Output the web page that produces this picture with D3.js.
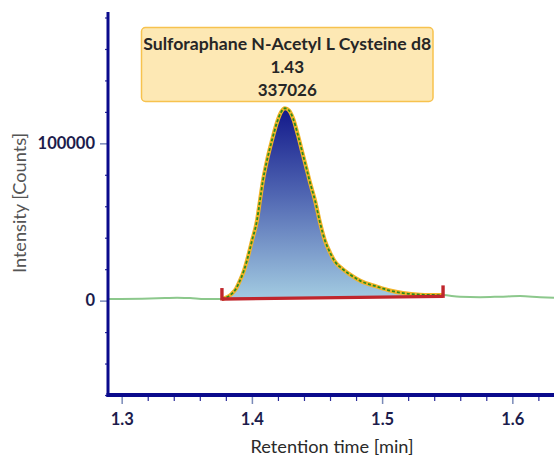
<!DOCTYPE html>
<html>
<head>
<meta charset="utf-8">
<script src="https://cdn.jsdelivr.net/npm/d3@7"></script>
<style>
  html, body { margin: 0; padding: 0; background: #fff; }
  svg { display: block; }
</style>
</head>
<body>
<svg id="chart" width="554" height="459"></svg>
<script>
// ---- data ----
const retentionTimes = [1.2895, 1.3217, 1.3333, 1.3425, 1.3525, 1.3640, 1.3755,
  1.3770, 1.3816, 1.3847, 1.3878, 1.3908, 1.3939, 1.3962, 1.4001, 1.4039, 1.4062,
  1.4085, 1.4116, 1.4154, 1.4193, 1.4223, 1.4254, 1.4285, 1.4316, 1.4354, 1.4393,
  1.4423, 1.4446, 1.4485, 1.4523, 1.4561, 1.4600, 1.4638, 1.4692, 1.4753, 1.4830,
  1.4961, 1.5061, 1.5160, 1.5291, 1.5468,
  1.5598, 1.5752, 1.5905, 1.6059, 1.6213, 1.6320];
const intensities = [1000, 1300, 1600, 1900, 1600, 1000, 1000,
  1000, 2500, 4500, 7600, 12700, 19100, 25500, 38200, 51000, 63700,
  76400, 89200, 101900, 113400, 119700, 122300, 121000, 115900, 105100, 92400,
  82800, 75200, 63700, 49700, 38200, 30600, 24800, 20400, 16600, 12700,
  8900, 6400, 4800, 3800, 3500,
  2500, 2200, 2500, 2900, 2200, 1900];
const peakStart = 1.377, peakEnd = 1.5468;
const baselineValues = [1000, 2700];
const peakLabel = ["Sulforaphane N-Acetyl L Cysteine d8", "1.43", "337026"];
const xTickValues = [1.3, 1.4, 1.5, 1.6];
const yTickValues = [0, 100000];
const xTitle = "Retention time [min]";
const yTitle = "Intensity [Counts]";

// ---- layout ----
const svg = d3.select("#chart");
const plotL = 108, plotR = 554, plotT = 12, plotB = 395;
const x = d3.scaleLinear().domain([1.2895, 1.632]).range([plotL, plotR]);
const y = d3.scaleLinear().domain([-60000, 183500]).range([plotB, plotT]);
const axisColor = "#0a0a8c";
const fontFam = "Lato, 'Open Sans', sans-serif";

const pts = retentionTimes.map((t, i) => ({t, v: intensities[i]}));
const baseAt = t => baselineValues[0] + (baselineValues[1] - baselineValues[0]) * (t - peakStart) / (peakEnd - peakStart);
const peakPts = pts.filter(p => p.t >= peakStart - 1e-9 && p.t <= peakEnd + 1e-9);

// gradient
const defs = svg.append("defs");
const grad = defs.append("linearGradient").attr("id", "pg")
  .attr("gradientUnits", "userSpaceOnUse")
  .attr("x1", 0).attr("x2", 0)
  .attr("y1", y(d3.max(peakPts, p => p.v))).attr("y2", y(0));
grad.append("stop").attr("offset", 0).attr("stop-color", "#12188a");
grad.append("stop").attr("offset", 0.45).attr("stop-color", "#5066b2");
grad.append("stop").attr("offset", 1).attr("stop-color", "#a4cde2");

// full trace (green)
const line = d3.line().x(p => x(p.t)).y(p => y(p.v)).curve(d3.curveMonotoneX);
svg.append("path").datum(pts).attr("d", line)
  .attr("fill", "none").attr("stroke", "#8cc88c").attr("stroke-width", 2);

// peak area
const area = d3.area().x(p => x(p.t)).y0(p => y(baseAt(p.t))).y1(p => y(p.v)).curve(d3.curveMonotoneX);
svg.append("path").datum(peakPts).attr("d", area).attr("fill", "url(#pg)");

// peak outline: orange with green dashes
svg.append("path").datum(peakPts).attr("d", line)
  .attr("fill", "none").attr("stroke", "#f2b428").attr("stroke-width", 4);
svg.append("path").datum(peakPts).attr("d", line)
  .attr("fill", "none").attr("stroke", "#2a8a1e").attr("stroke-width", 1.8)
  .attr("stroke-dasharray", "3,2");

// baseline (red) with end markers
const red = "#c0262c";
svg.append("line")
  .attr("x1", x(peakStart)).attr("y1", y(baselineValues[0]))
  .attr("x2", x(peakEnd)).attr("y2", y(baselineValues[1]))
  .attr("stroke", red).attr("stroke-width", 3.4);
[[peakStart, baselineValues[0]], [peakEnd, baselineValues[1]]].forEach(([t, v]) => {
  svg.append("line")
    .attr("x1", x(t)).attr("x2", x(t))
    .attr("y1", y(v) + 1.5).attr("y2", y(v) - 11)
    .attr("stroke", red).attr("stroke-width", 3.4);
});

// ---- axes ----
const yMinor = d3.range(-60000, 183500, 20000).filter(v => !yTickValues.includes(v));
const yAxisG = svg.append("g").attr("transform", `translate(${plotL},0)`)
  .call(d3.axisLeft(y).tickValues(yMinor).tickSize(3).tickFormat(""));
yAxisG.select(".domain").remove();
yAxisG.selectAll(".tick line").attr("stroke", "#2a2a9a").attr("stroke-width", 1.2);

const yMajorG = svg.append("g").attr("transform", `translate(${plotL},0)`)
  .call(d3.axisLeft(y).tickValues(yTickValues).tickSize(8).tickPadding(5).tickFormat(d3.format("d")));
yMajorG.select(".domain").remove();
yMajorG.selectAll(".tick line").attr("stroke", "#7a8ab8").attr("stroke-width", 1.5);
yMajorG.selectAll(".tick text")
  .attr("font-family", fontFam).attr("font-size", 16.5).attr("font-weight", 700)
  .attr("fill", "#1c1c4c");

const xMinor = d3.range(1.28, 1.64, 0.02).map(v => +v.toFixed(2))
  .filter(v => v > 1.2895 && v < 1.632 && !xTickValues.some(m => Math.abs(m - v) < 1e-6));
const xAxisG = svg.append("g").attr("transform", `translate(0,${plotB})`)
  .call(d3.axisBottom(x).tickValues(xMinor).tickSize(6).tickFormat(""));
xAxisG.select(".domain").remove();
xAxisG.selectAll(".tick line").attr("stroke", "#2a2a9a").attr("stroke-width", 1.2);

const xMajorG = svg.append("g").attr("transform", `translate(0,${plotB})`)
  .call(d3.axisBottom(x).tickValues(xTickValues).tickSize(9).tickPadding(9).tickFormat(d3.format(".1f")));
xMajorG.select(".domain").remove();
xMajorG.selectAll(".tick line").attr("stroke", "#7a8ab8").attr("stroke-width", 1.5);
xMajorG.selectAll(".tick text")
  .attr("font-family", fontFam).attr("font-size", 16.5).attr("font-weight", 700)
  .attr("fill", "#1c1c4c");

// axis lines
svg.append("line").attr("x1", plotL).attr("x2", plotL).attr("y1", plotT).attr("y2", plotB + 2)
  .attr("stroke", axisColor).attr("stroke-width", 3);
svg.append("line").attr("x1", plotL - 1.5).attr("x2", plotR).attr("y1", plotB).attr("y2", plotB)
  .attr("stroke", axisColor).attr("stroke-width", 4);

// axis titles
svg.append("text").attr("x", 332).attr("y", 453).attr("text-anchor", "middle")
  .attr("font-family", fontFam).attr("font-size", 17).attr("fill", "#2a2a2a")
  .attr("textLength", 163).attr("lengthAdjust", "spacingAndGlyphs")
  .text(xTitle);
svg.append("text").attr("transform", "translate(26,203) rotate(-90)").attr("text-anchor", "middle")
  .attr("font-family", fontFam).attr("font-size", 16.5).attr("fill", "#555")
  .attr("textLength", 140).attr("lengthAdjust", "spacingAndGlyphs")
  .text(yTitle);

// ---- annotation box ----
const bx = 141.5, by = 27.5, bw = 291.5, bh = 74;
svg.append("rect").attr("x", bx).attr("y", by).attr("width", bw).attr("height", bh)
  .attr("rx", 4).attr("fill", "#fde8b4").attr("stroke", "#f7c24e").attr("stroke-width", 1.5);
const lineYs = [50, 73, 96];
peakLabel.forEach((s, i) => {
  const t = svg.append("text").attr("x", bx + bw / 2).attr("y", lineYs[i]).attr("text-anchor", "middle")
    .attr("font-family", fontFam).attr("font-size", 17).attr("font-weight", 700)
    .attr("fill", "#262626").text(s);
  if (i === 0) t.attr("textLength", 288).attr("lengthAdjust", "spacingAndGlyphs");
});
</script>
</body>
</html>
